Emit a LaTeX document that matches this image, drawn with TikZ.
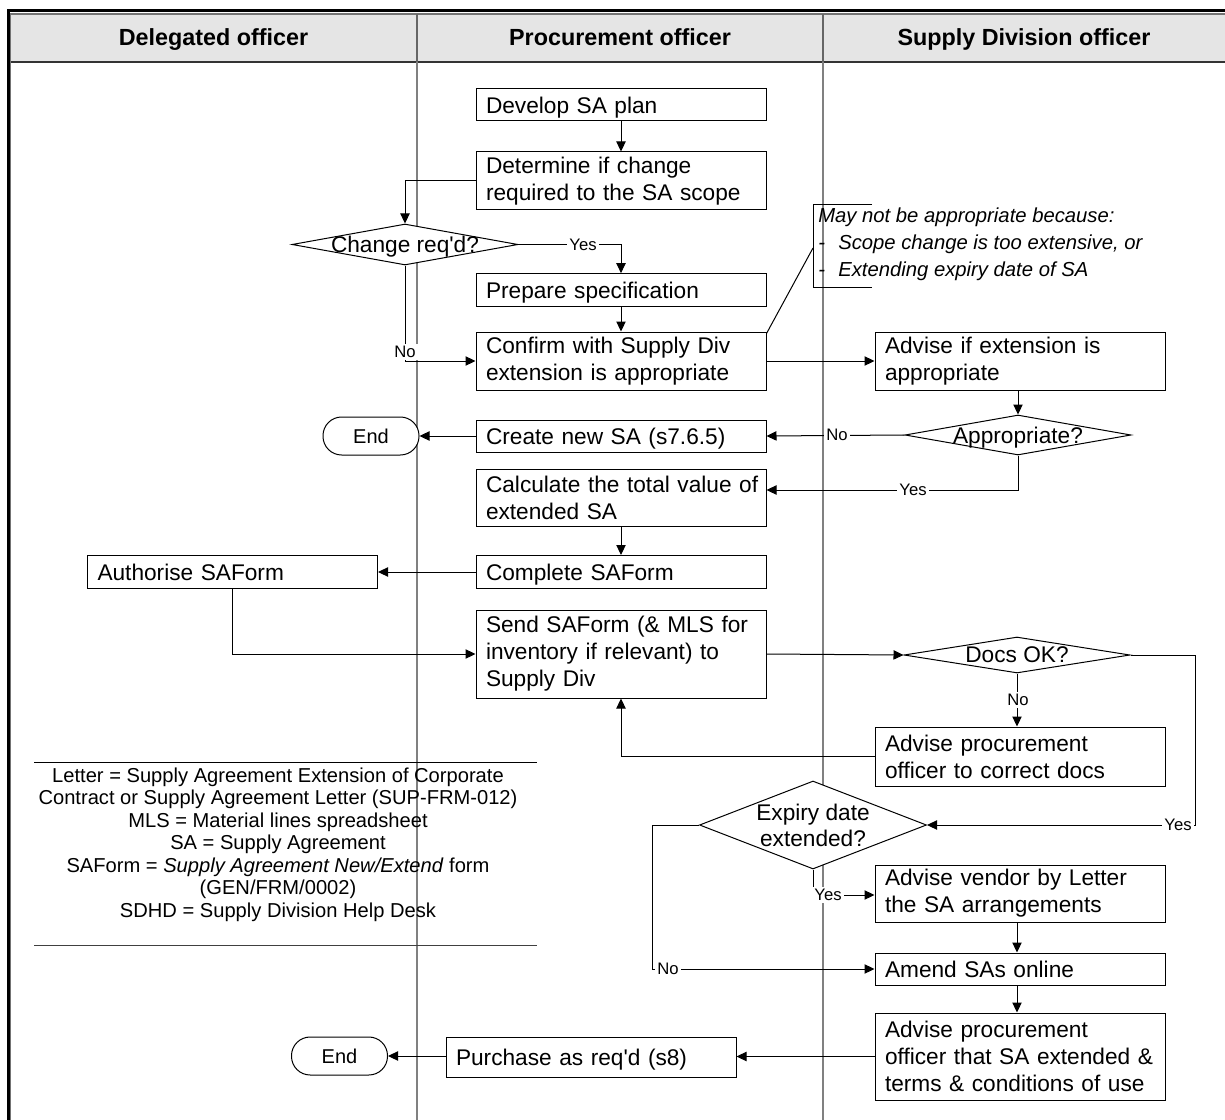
\documentclass[tikz,border=0pt]{standalone}
\usepackage{fontspec}
\setmainfont{Liberation Sans}[Ligatures=TeXOff]
\usetikzlibrary{arrows.meta,shapes.geometric,calc}

\begin{document}
\begin{tikzpicture}[x=0.75pt,y=-0.75pt,
  boxfont/.style={font=\fontsize{17}{20.25}\selectfont},
  proc/.style={boxfont, draw=black, line width=0.75pt, fill=white,
    text width=202.5pt, inner xsep=7.5pt, inner ysep=0pt, align=left},
  oneline/.style={text depth=0pt},
  dec/.style={diamond, draw=black, line width=0.75pt, fill=white, inner sep=0pt,
    minimum width=169.5pt},
  dtext/.style={boxfont, align=center, inner sep=0pt},
  term/.style={draw=black, line width=0.75pt, fill=white, rounded corners=14pt,
    minimum width=72pt, minimum height=28.5pt, inner sep=0pt, text depth=0pt,
    font=\fontsize{15}{18}\selectfont},
  conn/.style={draw=black, line width=0.75pt, -{Triangle[length=7.5pt,width=7pt]}},
  plain/.style={draw=black, line width=0.75pt},
  lab/.style={fill=white, inner sep=1.5pt, font=\fontsize{12.5}{14}\selectfont},
  lane/.style={draw=black!50, line width=1.1pt},
  head/.style={font=\fontsize{17.5}{21}\selectfont\bfseries, inner sep=0pt, anchor=base},
  note/.style={font=\fontsize{15.2}{20.25}\selectfont\itshape, align=left, inner sep=0pt},
  legend/.style={font=\fontsize{15.1}{16.875}\selectfont, align=center, inner sep=0pt}
]
\useasboundingbox (0,0) rectangle (1225,1120);

% swimlane header band and frame
\fill[black!10] (11,14) rectangle (1225,62);
\draw[line width=2.25pt] (8,1120) -- (8,11) -- (1225,11);
\draw[black!55, line width=0.9pt] (10.5,1120) -- (10.5,14) -- (1225,14);
\draw[black!80, line width=0.9pt] (11,62) -- (1225,62);
\draw[black!60, line width=1pt] (417,14) -- (417,62) (823,14) -- (823,62);
\node[head] (h1) at (213.5,46) {Delegated officer};
\node[head] (h2) at (620,46) {Procurement officer};
\node[head] (h3) at (1024,46) {Supply Division officer};

% lane separators
\draw[lane] (417,62) -- (417,1120);
\draw[lane] (823,62) -- (823,1120);

% legend of abbreviations
\draw[plain] (34,762) -- (537,762);
\draw[draw=black!75, line width=0.75pt] (34,945) -- (537,945);
\node[legend] (leg) at (278,844.5) {Letter = Supply Agreement Extension of Corporate\\
Contract or Supply Agreement Letter (SUP-FRM-012)\\
MLS = Material lines spreadsheet\\
SA = Supply Agreement\\
SAForm = \textit{Supply Agreement New/Extend} form\\
(GEN/FRM/0002)\\
SDHD = Supply Division Help Desk};

% procurement officer steps
\node[proc, oneline, minimum height=24pt] (dev) at (621,105) {Develop SA plan};
\node[proc, minimum height=43.5pt] (det) at (621,181) {Determine if change\\required to the SA scope};
\node[proc, oneline, minimum height=24.5pt] (prep) at (621,290) {Prepare specification};
\node[proc, minimum height=43.5pt] (conf) at (621,361) {Confirm with Supply Div\\extension is appropriate};
\node[proc, oneline, minimum height=24pt] (create) at (621,436) {Create new SA (s7.6.5)};
\node[proc, minimum height=42.75pt] (calc) at (621,498) {\mbox{Calculate the total value of}\\extended SA};
\node[proc, oneline, minimum height=24.75pt] (comp) at (621,572) {Complete SAForm};
\node[proc, minimum height=66pt] (send) at (621,654) {Send SAForm (\& MLS for\\inventory if relevant) to\\Supply Div};
\node[proc, oneline, minimum height=30pt] (purch) at (591,1057) {Purchase as req'd (s8)};

% delegated officer steps
\node[proc, oneline, minimum height=24.75pt] (auth) at (232.5,572) {Authorise SAForm};
\node[term] (end1) at (371,436) {End};
\node[term] (end2) at (339.5,1056) {End};

% supply division steps
\node[proc, minimum height=43.5pt] (advext) at (1020,361) {Advise if extension is\\appropriate};
\node[proc, minimum height=44.25pt] (advc) at (1020,756.5) {Advise procurement\\officer to correct docs};
\node[proc, minimum height=42.75pt] (advv) at (1020,893.5) {Advise vendor by Letter\\the SA arrangements};
\node[proc, oneline, minimum height=24pt] (amend) at (1020,969) {Amend SAs online};
\node[proc, minimum height=65.25pt] (adve) at (1020,1056.5) {Advise procurement\\officer that SA extended \&\\terms \& conditions of use};

% decisions
\node[dec, minimum height=30.75pt, label={[dtext, text depth=0pt]center:Change req'd?}] (chg) at (405,244.5) {};
\node[dec, minimum height=30pt, label={[dtext, text depth=0pt]center:Appropriate?}] (appr) at (1018,435) {};
\node[dec, minimum height=27pt, label={[dtext, text depth=0pt]center:Docs OK?}] (docs) at (1017,655) {};
\node[dec, minimum width=170.25pt, minimum height=66pt,
  label={[dtext, font=\fontsize{17}{19.5}\selectfont]center:Expiry date\\extended?}] (exp) at (813,825) {};

% note on the confirmation step
\node[note, anchor=west] (nt) at (818,244) {May not be appropriate because:\\
\makebox[15pt][l]{-}Scope change is too extensive, or\\
\makebox[15pt][l]{-}Extending expiry date of SA};
\coordinate (brk) at (813,248);
\draw[plain] (872,205) -| (813,287) -- (872,287);
\draw[plain] ($(conf.north east)+(0,2)$) -- (brk);

% connectors
\draw[conn] (dev) -- (det);
\draw[conn] (det.west) -| (chg.north);
\draw[conn] (chg.east) -| (prep.north);
\draw[conn] (prep) -- (conf);
\draw[conn] (chg.south) |- (conf.west);
\draw[conn] (conf.east) -- (advext.west);
\draw[conn] (advext.south -| appr.north) -- (appr.north);
\draw[conn] (appr.west) -- (create.east);
\draw[conn] (appr.south) |- ($(calc.east)+(0,-8)$);
\draw[conn] (create.west) -- (end1.east);
\draw[conn] (calc) -- (comp);
\draw[conn] (comp.west) -- (auth.east);
\draw[conn] (auth.south) |- (send.west);
\draw[conn] (send.east) -- (docs.west);
\draw[conn] (docs.south) -- (docs.south |- advc.north);
\draw[conn] (docs.east) -- (1195,655) |- (exp.east);
\draw[conn] (advc.west) -| (send.south);
\draw[conn] (exp.south) |- ($(advv.west)+(0,1.5)$);
\draw[conn] (exp.west) -- (652,825) |- (amend.west);
\draw[conn] (advv.south -| docs.south) -- (docs.south |- amend.north);
\draw[conn] (amend.south -| docs.south) -- (docs.south |- adve.north);
\draw[conn] (adve.west) -- (purch.east |- adve.west);
\draw[conn] (purch.west |- end2.east) -- (end2.east);

% branch labels
\node[lab] (l1) at (583,244.5) {Yes};
\node[lab] (l2) at (405,352) {No};
\node[lab] (l3) at (837,435) {No};
\node[lab] (l4) at (913,490) {Yes};
\node[lab] (l5) at (1018,700) {No};
\node[lab] (l6) at (1178,825) {Yes};
\node[lab] (l7) at (828,895) {Yes};
\node[lab] (l8) at (668,969) {No};
\end{tikzpicture}
\end{document}
